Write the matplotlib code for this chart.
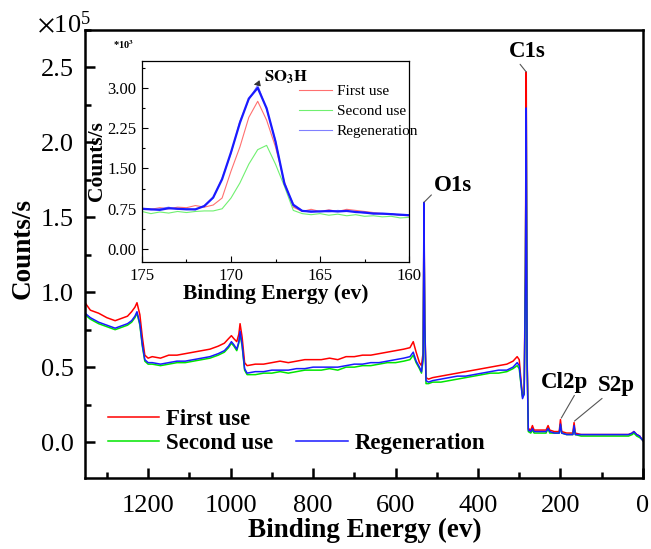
import matplotlib
matplotlib.use("Agg")
import matplotlib.pyplot as plt
from matplotlib.lines import Line2D
from matplotlib.ticker import MultipleLocator, FormatStrFormatter

plt.rcParams['font.family'] = ['Liberation Serif', 'DejaVu Serif']
plt.rcParams['mathtext.fontset'] = 'stix'

# survey spectrum, binding energy (eV) and counts (x10^5)
energy = [1353, 1340, 1320, 1300, 1290, 1280, 1270, 1260, 1250, 1240, 1232, 1227,
          1220, 1214, 1208, 1200, 1190, 1170, 1150, 1130, 1110, 1090, 1070, 1050,
          1030, 1015, 1005, 998, 992, 985, 980, 977, 972, 966, 960, 940, 920, 900,
          880, 860, 840, 820, 800, 780, 760, 740, 720, 700, 680, 660, 640, 620, 600,
          580, 565, 557, 550, 542, 537, 533, 531, 529, 526, 520, 510, 490, 470, 450,
          430, 410, 390, 370, 350, 330, 315, 305, 300, 296, 292, 288, 285, 283, 281,
          278, 272, 268, 264, 250, 235, 230, 226, 215, 203, 200, 197, 185, 170, 167,
          164, 150, 130, 110, 90, 70, 50, 35, 26, 22, 15, 8, 3, 0]

first_use = [0.93, 0.88, 0.86, 0.83, 0.82, 0.81, 0.82, 0.83, 0.84, 0.87, 0.90, 0.93,
             0.85, 0.70, 0.58, 0.56, 0.57, 0.56, 0.58, 0.58, 0.59, 0.60, 0.61, 0.62,
             0.64, 0.66, 0.69, 0.71, 0.69, 0.67, 0.72, 0.79, 0.70, 0.53, 0.51, 0.52,
             0.52, 0.53, 0.54, 0.53, 0.54, 0.55, 0.55, 0.55, 0.56, 0.55, 0.57, 0.57,
             0.58, 0.58, 0.59, 0.60, 0.61, 0.62, 0.63, 0.67, 0.60, 0.53, 0.51, 0.60,
             1.50, 0.80, 0.43, 0.42, 0.43, 0.44, 0.45, 0.46, 0.47, 0.48, 0.49, 0.50,
             0.51, 0.52, 0.54, 0.57, 0.55, 0.42, 0.31, 0.34, 1.20, 2.47, 0.60, 0.09,
             0.08, 0.11, 0.08, 0.08, 0.08, 0.11, 0.08, 0.07, 0.07, 0.15, 0.07, 0.06,
             0.06, 0.13, 0.06, 0.05, 0.05, 0.05, 0.05, 0.05, 0.05, 0.05, 0.06, 0.07,
             0.05, 0.04, 0.02, 0.01]

second_use = [0.85, 0.82, 0.79, 0.77, 0.76, 0.75, 0.76, 0.77, 0.78, 0.80, 0.83, 0.86,
              0.78, 0.64, 0.54, 0.52, 0.52, 0.51, 0.52, 0.53, 0.53, 0.54, 0.55, 0.56,
              0.58, 0.60, 0.63, 0.66, 0.64, 0.61, 0.66, 0.72, 0.64, 0.48, 0.45, 0.45,
              0.46, 0.46, 0.47, 0.46, 0.47, 0.48, 0.48, 0.48, 0.49, 0.48, 0.50, 0.50,
              0.51, 0.51, 0.52, 0.53, 0.53, 0.54, 0.55, 0.58, 0.53, 0.49, 0.46, 0.55,
              1.45, 0.75, 0.39, 0.39, 0.40, 0.40, 0.41, 0.42, 0.43, 0.44, 0.45, 0.46,
              0.46, 0.47, 0.49, 0.51, 0.49, 0.39, 0.30, 0.32, 1.10, 2.20, 0.55, 0.07,
              0.06, 0.08, 0.06, 0.06, 0.06, 0.09, 0.06, 0.06, 0.06, 0.11, 0.06, 0.05,
              0.05, 0.10, 0.05, 0.04, 0.04, 0.04, 0.04, 0.04, 0.04, 0.04, 0.05, 0.06,
              0.04, 0.03, 0.02, 0.01]

regeneration = [0.86, 0.83, 0.80, 0.78, 0.77, 0.76, 0.77, 0.78, 0.79, 0.81, 0.84, 0.87,
                0.79, 0.65, 0.55, 0.53, 0.53, 0.52, 0.53, 0.54, 0.54, 0.55, 0.56, 0.57,
                0.59, 0.61, 0.64, 0.67, 0.65, 0.62, 0.67, 0.74, 0.65, 0.49, 0.46, 0.47,
                0.47, 0.48, 0.48, 0.48, 0.49, 0.49, 0.50, 0.50, 0.50, 0.50, 0.51, 0.52,
                0.52, 0.53, 0.53, 0.54, 0.55, 0.56, 0.57, 0.60, 0.54, 0.50, 0.47, 0.57,
                1.60, 0.78, 0.41, 0.40, 0.41, 0.42, 0.43, 0.44, 0.44, 0.45, 0.46, 0.47,
                0.48, 0.48, 0.50, 0.53, 0.51, 0.40, 0.29, 0.32, 1.10, 2.23, 0.55, 0.08,
                0.07, 0.09, 0.07, 0.07, 0.07, 0.09, 0.07, 0.06, 0.06, 0.12, 0.06, 0.05,
                0.05, 0.11, 0.05, 0.05, 0.05, 0.05, 0.05, 0.05, 0.05, 0.05, 0.06, 0.07,
                0.05, 0.04, 0.02, 0.01]

# S2p high resolution region (counts x10^3)
s_energy = [175, 174.5, 174, 173.5, 173, 172.5, 172, 171.5, 171, 170.5, 170, 169.5,
            169, 168.5, 168, 167.5, 167, 166.5, 166, 165.5, 165, 164.5, 164, 163.5,
            163, 162.5, 162, 161.5, 161, 160.5, 160]
s_first = [0.76, 0.74, 0.77, 0.75, 0.78, 0.77, 0.81, 0.78, 0.82, 0.95, 1.45, 1.90,
           2.45, 2.75, 2.40, 1.90, 1.25, 0.78, 0.70, 0.74, 0.70, 0.73, 0.70, 0.74,
           0.72, 0.70, 0.68, 0.66, 0.65, 0.63, 0.62]
s_second = [0.70, 0.66, 0.69, 0.67, 0.70, 0.68, 0.70, 0.71, 0.71, 0.75, 0.95, 1.23,
            1.58, 1.85, 1.93, 1.58, 1.17, 0.72, 0.66, 0.64, 0.66, 0.63, 0.65, 0.62,
            0.64, 0.61, 0.62, 0.60, 0.61, 0.58, 0.59]
s_regen_raw = [0.76, 0.73, 0.75, 0.78, 0.74, 0.75, 0.73, 0.81, 0.95, 1.32, 1.78, 2.38,
               2.78, 3.05, 2.60, 2.02, 1.20, 0.84, 0.72, 0.68, 0.71, 0.69, 0.72, 0.70,
               0.70, 0.67, 0.67, 0.65, 0.66, 0.63, 0.64]
s_regen_fit = [0.75, 0.74, 0.73, 0.76, 0.75, 0.74, 0.74, 0.80, 0.96, 1.30, 1.80, 2.35,
               2.80, 3.00, 2.62, 2.00, 1.22, 0.82, 0.71, 0.70, 0.70, 0.71, 0.70, 0.71,
               0.69, 0.68, 0.66, 0.66, 0.65, 0.64, 0.63]

fig = plt.figure(figsize=(6.51, 5.49), dpi=100)
ax = fig.add_axes([0.1306, 0.1293, 0.857, 0.816])

l1, = ax.plot(energy, first_use, color='#ff0000', lw=1.1)
l2, = ax.plot(energy, second_use, color='#00e600', lw=1.1)
l3, = ax.plot(energy, regeneration, color='#1a1aff', lw=1.1)

ax.set_xlim(1353, 0)
ax.set_ylim(-0.24, 2.75)
ax.xaxis.set_major_locator(MultipleLocator(200))
ax.xaxis.set_minor_locator(MultipleLocator(100))
ax.yaxis.set_major_locator(MultipleLocator(0.5))
ax.yaxis.set_minor_locator(MultipleLocator(0.25))
ax.yaxis.set_major_formatter(FormatStrFormatter('%.1f'))
ax.tick_params(which='both', direction='in', width=1.8, labelsize=19)
ax.tick_params(which='major', length=7, pad=8)
ax.tick_params(axis='x', which='major', pad=12)
ax.tick_params(which='minor', length=4)
for s in ax.spines.values():
    s.set_linewidth(1.8)

ax.set_xlabel('Binding Energy (ev)', fontsize=19.5, fontweight='bold', va='center')
ax.set_ylabel('Counts/s', fontsize=19.5, fontweight='bold', va='center')
ax.xaxis.set_label_coords(0.501, -0.116)
ax.yaxis.set_label_coords(-0.111, 0.513)
fig.text(0.057, 0.933, r'$\times\mathregular{10^{5}}$', fontsize=19, va='bottom')

blank = Line2D([], [], color='none')
ax.legend([l1, l2, blank, l3], ['First use', 'Second use', '', 'Regeneration'],
          ncol=2, frameon=False, loc='upper left', bbox_to_anchor=(0.02, 0.18),
          prop={'weight': 'bold', 'size': 16.5}, handlelength=2.25,
          handletextpad=0.3, columnspacing=1.0, labelspacing=0.12, borderpad=0)

lead = dict(arrowstyle='-', color='#555555', lw=0.8, shrinkA=0, shrinkB=0)
ax.annotate('C1s', xy=(283, 2.47), xytext=(281, 2.61), ha='center', va='center',
            fontsize=16.5, fontweight='bold', arrowprops=dict(lead, relpos=(0.25, 0)))
ax.annotate('O1s', xy=(531, 1.60), xytext=(460, 1.71), ha='center', va='center',
            fontsize=16.5, fontweight='bold', arrowprops=dict(lead, relpos=(0.0, 0.2)))
ax.annotate('Cl2p', xy=(198, 0.16), xytext=(191, 0.40), ha='center', va='center',
            fontsize=16.5, fontweight='bold', arrowprops=dict(lead, relpos=(0.75, 0)))
ax.annotate('S2p', xy=(166, 0.14), xytext=(64, 0.38), ha='center', va='center',
            fontsize=16.5, fontweight='bold', arrowprops=dict(lead, relpos=(0.2, 0)))

# inset
ins = fig.add_axes([0.2181, 0.5228, 0.4102, 0.3661])
ins.plot(s_energy, s_first, color='#ff7070', lw=0.8, label='First use')
ins.plot(s_energy, s_second, color='#70f070', lw=0.8, label='Second use')
ins.plot(s_energy, s_regen_raw, color='#8080ff', lw=0.8, label='Regeneration')
ins.plot(s_energy, s_regen_fit, color='#1a1aff', lw=1.6)
ins.set_xlim(175, 160)
ins.set_ylim(-0.24, 3.5)
ins.xaxis.set_major_locator(MultipleLocator(5))
ins.xaxis.set_minor_locator(MultipleLocator(2.5))
ins.yaxis.set_major_locator(MultipleLocator(0.75))
ins.yaxis.set_minor_locator(MultipleLocator(0.375))
ins.yaxis.set_major_formatter(FormatStrFormatter('%.2f'))
ins.tick_params(which='both', direction='in', width=0.8, labelsize=12)
ins.tick_params(which='major', length=4, pad=4)
ins.tick_params(which='minor', length=2.5)
for s in ins.spines.values():
    s.set_linewidth(0.9)
ins.set_xlabel('Binding Energy (ev)', fontsize=15.5, fontweight='bold', labelpad=0)
ins.set_ylabel('Counts/s', fontsize=15.5, fontweight='bold', labelpad=0)
ins.legend(frameon=False, loc='upper right', bbox_to_anchor=(1.064, 0.92),
           fontsize=11, handlelength=2.2, handletextpad=0.3, labelspacing=0.4,
           borderpad=0)
ins.annotate(r'$\mathbf{SO_3H}$', xy=(168.72, 3.06), xytext=(168.15, 3.19),
             fontsize=12, va='center', ha='left',
             arrowprops=dict(arrowstyle='-|>,head_length=0.3,head_width=0.15',
                             color='#333333', lw=0.7, shrinkA=2, shrinkB=0))
fig.text(0.173, 0.91, r'*10$^{\mathbf{3}}$', fontsize=7.5, fontweight='bold')

fig.savefig('out.png', dpi=100)
